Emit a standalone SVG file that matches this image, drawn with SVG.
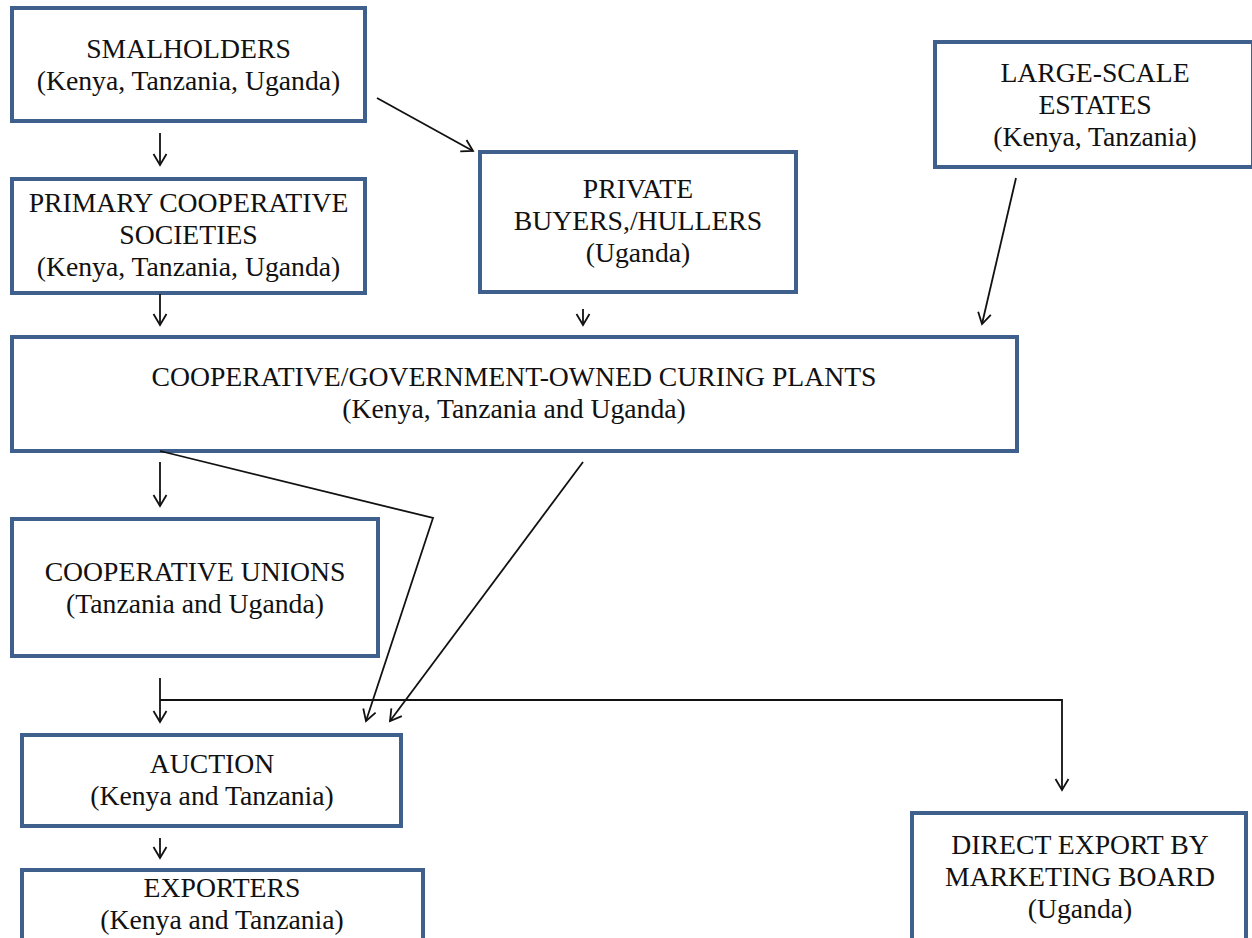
<svg xmlns="http://www.w3.org/2000/svg" width="1252" height="938" viewBox="0 0 1252 938">
<style>
.box{fill:#fff;stroke:#3F5F8C;stroke-width:4}
.t{font-family:"Liberation Serif","Times New Roman",serif;font-size:27.7px;fill:#111;text-anchor:middle}
.c{fill:none;stroke:#111;stroke-width:1.8}
</style>
<defs>
<marker id="ah" markerUnits="userSpaceOnUse" markerWidth="16" markerHeight="18" refX="12" refY="8" orient="auto" viewBox="0 0 16 16">
<path d="M1,1.5 L12,8 L1,14.5" fill="none" stroke="#111" stroke-width="1.8"/>
</marker>
</defs>
<rect width="1252" height="938" fill="#fff"/>
<g id="smalholders">
<rect class="box" x="12" y="8" width="353" height="113"/>
<text class="t" x="188.5" y="58">SMALHOLDERS</text>
<text class="t" x="188.5" y="90">(Kenya, Tanzania, Uganda)</text>
</g>
<g id="primary">
<rect class="box" x="12" y="179" width="353" height="114"/>
<text class="t" x="188.5" y="212">PRIMARY COOPERATIVE</text>
<text class="t" x="188.5" y="244">SOCIETIES</text>
<text class="t" x="188.5" y="276">(Kenya, Tanzania, Uganda)</text>
</g>
<g id="private">
<rect class="box" x="480" y="152" width="316" height="140"/>
<text class="t" x="638" y="198">PRIVATE</text>
<text class="t" x="638" y="230">BUYERS,/HULLERS</text>
<text class="t" x="638" y="262">(Uganda)</text>
</g>
<g id="estates">
<rect class="box" x="935" y="42" width="318" height="125"/>
<text class="t" x="1095" y="82">LARGE-SCALE</text>
<text class="t" x="1095" y="114">ESTATES</text>
<text class="t" x="1095" y="146">(Kenya, Tanzania)</text>
</g>
<g id="curing">
<rect class="box" x="12" y="337" width="1005" height="114"/>
<text class="t" x="514" y="386">COOPERATIVE/GOVERNMENT-OWNED CURING PLANTS</text>
<text class="t" x="514" y="418">(Kenya, Tanzania and Uganda)</text>
</g>
<g id="unions">
<rect class="box" x="12" y="519" width="366" height="137"/>
<text class="t" x="195" y="581">COOPERATIVE UNIONS</text>
<text class="t" x="195" y="613">(Tanzania and Uganda)</text>
</g>
<g id="auction">
<rect class="box" x="22" y="735" width="379" height="91"/>
<text class="t" x="212" y="773">AUCTION</text>
<text class="t" x="212" y="805">(Kenya and Tanzania)</text>
</g>
<g id="exporters">
<rect class="box" x="22" y="870" width="401" height="80"/>
<text class="t" x="222" y="897">EXPORTERS</text>
<text class="t" x="222" y="929">(Kenya and Tanzania)</text>
</g>
<g id="direct">
<rect class="box" x="912" y="813" width="334" height="140"/>
<text class="t" x="1080" y="854">DIRECT EXPORT BY</text>
<text class="t" x="1080" y="886">MARKETING BOARD</text>
<text class="t" x="1080" y="918">(Uganda)</text>
</g>
<g id="connectors">
<line class="c" x1="160" y1="133" x2="160" y2="165" marker-end="url(#ah)"/>
<line class="c" x1="377" y1="98" x2="473" y2="151" marker-end="url(#ah)"/>
<line class="c" x1="160" y1="294" x2="160" y2="325" marker-end="url(#ah)"/>
<line class="c" x1="583" y1="309" x2="583" y2="325" marker-end="url(#ah)"/>
<line class="c" x1="1016" y1="178" x2="982" y2="324" marker-end="url(#ah)"/>
<line class="c" x1="160" y1="462" x2="160" y2="506" marker-end="url(#ah)"/>
<polyline class="c" points="160,451 433,518 366,721" marker-end="url(#ah)"/>
<line class="c" x1="583" y1="462" x2="390" y2="721" marker-end="url(#ah)"/>
<line class="c" x1="160" y1="678" x2="160" y2="722" marker-end="url(#ah)"/>
<polyline class="c" points="160,700 1062,700 1062,790" marker-end="url(#ah)"/>
<line class="c" x1="160" y1="838" x2="160" y2="858" marker-end="url(#ah)"/>
</g>
</svg>
